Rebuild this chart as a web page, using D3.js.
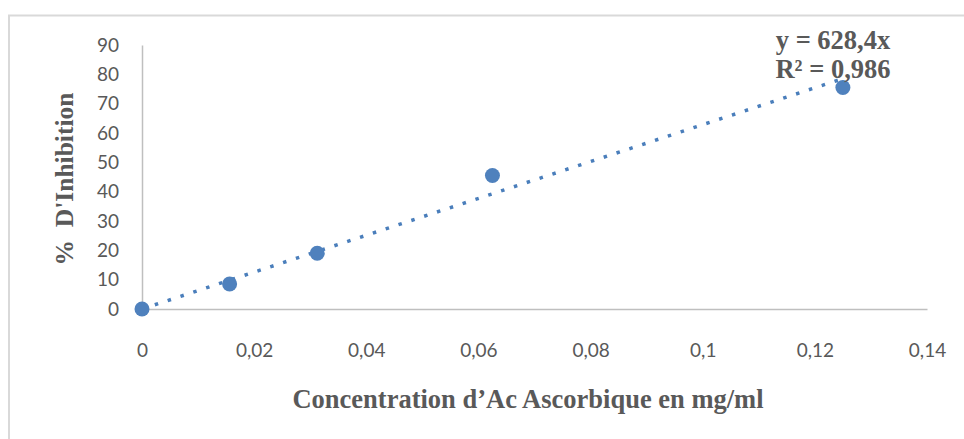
<!DOCTYPE html>
<html><head><meta charset="utf-8">
<script src="https://cdn.jsdelivr.net/npm/d3@7"></script>
<style>body{margin:0;background:#fff}svg{display:block}</style>
</head><body>
<script>
const concentrations = [0, 0.015625, 0.03125, 0.0625, 0.125];
const inhibition = [0, 8.5, 19, 45.5, 75.5];
const xTicks = [0, 0.02, 0.04, 0.06, 0.08, 0.1, 0.12, 0.14];
const yTicks = [0, 10, 20, 30, 40, 50, 60, 70, 80, 90];
const slope = 628.4;
const trendRange = [0, 0.125];
const equationLines = ["y = 628,4x", "R² = 0,986"];
const xTitle = "Concentration d’Ac Ascorbique en mg/ml";
const yTitle = "%  D'Inhibition";

const W = 964, H = 439;
const svg = d3.select("body").append("svg").attr("width", W).attr("height", H);
svg.append("rect").attr("x", 9).attr("y", 15.5).attr("width", W + 20).attr("height", H + 20)
  .attr("fill", "#fff").attr("stroke", "#d9d9d9").attr("stroke-width", 2);

const x = d3.scaleLinear().domain([0, 0.14]).range([142, 927]);
const y = d3.scaleLinear().domain([0, 90]).range([309, 45]);
const fmt = d => String(d).replace(".", ",");

const xAxis = svg.append("g").attr("transform", `translate(0,${y(0)})`)
  .call(d3.axisBottom(x).tickValues(xTicks).tickFormat(fmt).tickSize(0).tickPadding(35));
const yAxis = svg.append("g").attr("transform", `translate(${x(0)},0)`)
  .call(d3.axisLeft(y).tickValues(yTicks).tickFormat(fmt).tickSize(0).tickPadding(23));
[xAxis, yAxis].forEach(a => {
  a.select(".domain").attr("stroke", "#bfbfbf").attr("stroke-width", 1.5);
  a.selectAll("text").attr("fill", "#595959").style("font-family", "Lato, 'Open Sans', sans-serif").style("font-size", "19px");
});

svg.append("line")
  .attr("x1", x(trendRange[0])).attr("y1", y(slope * trendRange[0]))
  .attr("x2", x(trendRange[1])).attr("y2", y(slope * trendRange[1]))
  .attr("stroke", "#4a7ebb").attr("stroke-width", 3.5).attr("stroke-dasharray", "3.5,10");

svg.selectAll("circle.pt").data(concentrations).enter().append("circle")
  .attr("class", "pt")
  .attr("cx", d => x(d)).attr("cy", (d, i) => y(inhibition[i])).attr("r", 7.5)
  .attr("fill", "#4f81bd");

svg.selectAll("text.eq").data(equationLines).enter().append("text")
  .attr("class", "eq")
  .attr("x", 833).attr("y", (d, i) => 49 + i * 29)
  .attr("text-anchor", "middle").attr("fill", "#595959")
  .style("font-family", "'Liberation Serif', 'Times New Roman', serif")
  .style("font-weight", "bold").style("font-size", "26.5px").text(d => d);

svg.append("text").attr("x", 528).attr("y", 408).attr("text-anchor", "middle")
  .attr("fill", "#595959").style("font-family", "'Liberation Serif', serif")
  .style("font-weight", "bold").style("font-size", "26.5px").text(xTitle);

svg.append("text").attr("transform", "translate(73,179) rotate(-90)").attr("text-anchor", "middle")
  .attr("fill", "#595959").style("font-family", "'Liberation Serif', serif")
  .style("font-weight", "bold").style("font-size", "25.5px").style("white-space", "pre")
  .attr("xml:space", "preserve").text(yTitle);
</script>
</body></html>
